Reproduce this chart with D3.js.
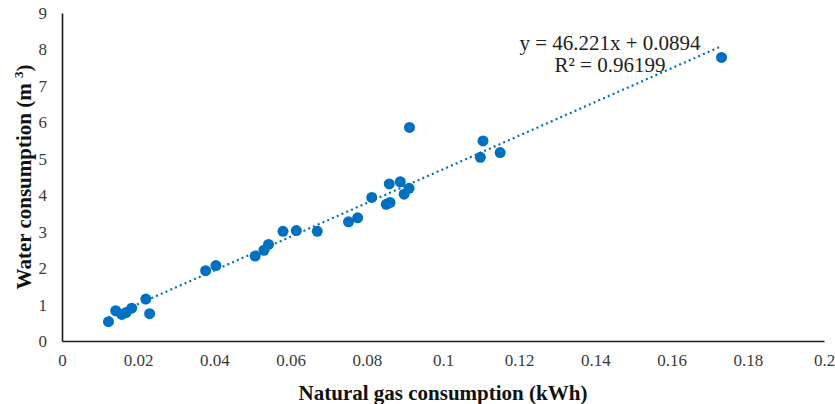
<!DOCTYPE html>
<html><head><meta charset="utf-8">
<script src="https://cdn.jsdelivr.net/npm/d3@7"></script>
<style>body{margin:0;background:#fff}svg{display:block}</style>
</head><body>
<svg id="c" width="835" height="404"></svg>
<script>
const gasX = [0.0122,0.0141,0.0157,0.0168,0.0183,0.0220,0.0230,0.0377,0.0404,0.0507,0.0530,0.0542,0.0580,0.0615,0.0670,0.0752,0.0776,0.0813,0.0851,0.0861,0.0898,0.0912,0.0859,0.0888,0.0911,0.1105,0.1098,0.1150,0.1731];
const waterY = [0.53,0.83,0.73,0.78,0.90,1.15,0.75,1.93,2.07,2.33,2.49,2.65,3.01,3.03,3.01,3.27,3.38,3.94,3.75,3.80,4.03,5.86,4.31,4.37,4.19,5.49,5.04,5.17,7.78];
const xTicks = [0,0.02,0.04,0.06,0.08,0.1,0.12,0.14,0.16,0.18,0.2];
const yTicks = [0,1,2,3,4,5,6,7,8,9];
const slope = 46.221, intercept = 0.0894;
const eqLines = ["y = 46.221x + 0.0894","R\u00B2 = 0.96199"];

const svg = d3.select("#c");
const font = "'Liberation Serif','Times New Roman',serif";
const x = d3.scaleLinear().domain([0,0.2]).range([62,824]);
const y = d3.scaleLinear().domain([0,9]).range([341,13]);
const blue = "#0070C0";

// axes
const xa = svg.append("g").attr("transform","translate(0,341)")
  .call(d3.axisBottom(x).tickValues(xTicks).tickSize(0).tickPadding(13).tickFormat(d=>String(d)));
const ya = svg.append("g").attr("transform","translate(62,0)")
  .call(d3.axisLeft(y).tickValues(yTicks).tickSize(0).tickPadding(15).tickFormat(d=>String(d)));
[xa,ya].forEach(a=>{
  a.select(".domain").attr("stroke","#1a1a1a").attr("stroke-width",1.6);
  a.selectAll("text").attr("font-family",font).attr("font-size",17).attr("fill","#3a3a3a");
});

// trendline
const xr = d3.extent(gasX);
svg.append("line")
  .attr("x1",x(xr[0])).attr("y1",y(slope*xr[0]+intercept))
  .attr("x2",x(xr[1])).attr("y2",y(slope*xr[1]+intercept))
  .attr("stroke",blue).attr("stroke-width",2.2).attr("stroke-dasharray","2,3.2");

// points
svg.append("g").selectAll("circle").data(gasX).join("circle")
  .attr("cx",d=>x(d)).attr("cy",(d,i)=>y(waterY[i])).attr("r",5.5).attr("fill",blue);

// equation
svg.append("g").selectAll("text").data(eqLines).join("text")
  .attr("x",610).attr("y",(d,i)=>50+i*22)
  .attr("text-anchor","middle").attr("font-family",font).attr("font-size",21).attr("fill","#222")
  .text(d=>d);

// titles
svg.append("text").attr("x",443).attr("y",400).attr("text-anchor","middle")
  .attr("font-family",font).attr("font-size",21).attr("font-weight","bold").attr("fill","#111")
  .text("Natural gas consumption (kWh)");
const yt = svg.append("text").attr("transform","translate(31,177) rotate(-90)").attr("text-anchor","middle")
  .attr("font-family",font).attr("font-size",21).attr("font-weight","bold").attr("fill","#111");
yt.append("tspan").text("Water consumption (m ");
yt.append("tspan").attr("font-size",13).attr("dy",-8).text("3");
yt.append("tspan").attr("dy",8).text(")");
</script>
</body></html>
